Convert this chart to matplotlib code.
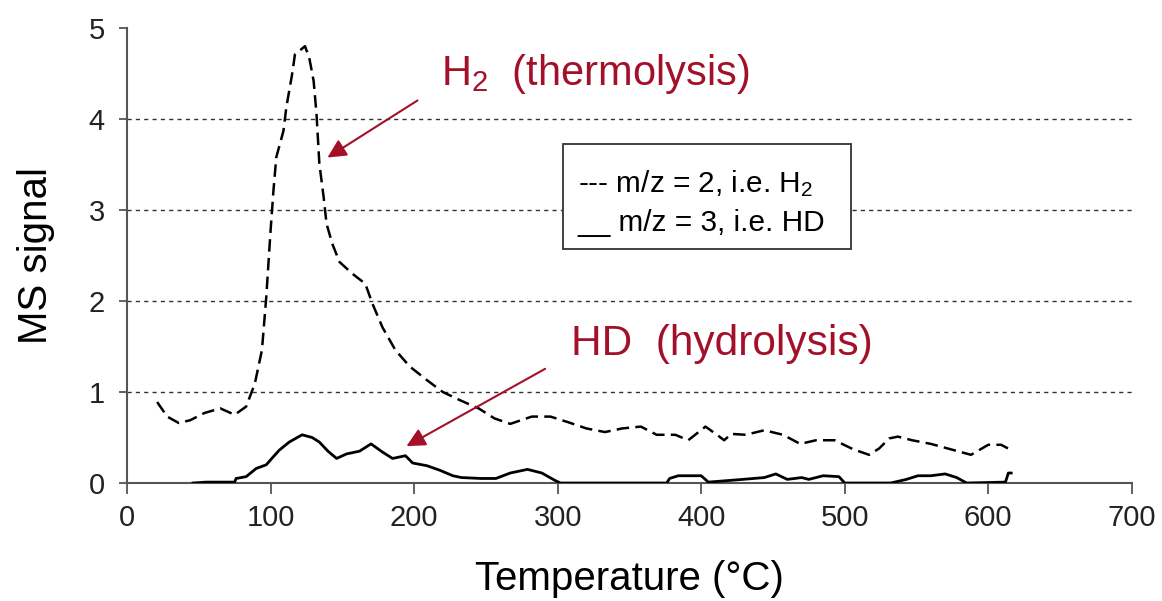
import numpy as np
import matplotlib
matplotlib.use('Agg')
import matplotlib.pyplot as plt
from matplotlib.patches import Rectangle

plt.rcParams['font.family'] = ['Liberation Sans', 'DejaVu Sans']
plt.rcParams['mathtext.default'] = 'regular'

# m/z = 2 (H2)
temp_h2 = [21, 28, 36, 44, 54, 65, 75, 83, 89, 94, 97, 100, 102, 104, 109, 111, 115, 117,
           124, 127, 130, 132, 134, 137, 139, 143, 148, 157, 166, 171, 178, 187, 197, 209,
           220, 232, 245, 256, 267, 282, 295, 307, 320, 333, 345, 358, 369, 382, 391, 403,
           411, 416, 421, 431, 444, 457, 469, 480, 493, 506, 517, 524, 531, 537, 547, 560,
           574, 588, 600, 609, 615]
sig_h2 = [0.89, 0.73, 0.66, 0.69, 0.77, 0.82, 0.75, 0.84, 1.09, 1.46, 2.04, 2.77, 3.21, 3.58,
          3.87, 4.13, 4.49, 4.71, 4.80, 4.67, 4.42, 4.06, 3.51, 3.14, 2.85, 2.63, 2.43, 2.30,
          2.19, 1.97, 1.71, 1.46, 1.28, 1.13, 1.00, 0.91, 0.82, 0.71, 0.65, 0.73, 0.73, 0.67,
          0.60, 0.56, 0.60, 0.62, 0.53, 0.53, 0.47, 0.62, 0.53, 0.47, 0.54, 0.53, 0.58, 0.53,
          0.43, 0.47, 0.47, 0.37, 0.31, 0.38, 0.49, 0.51, 0.47, 0.43, 0.37, 0.31, 0.42, 0.42,
          0.37]

# m/z = 3 (HD)
temp_hd = [46, 55, 65, 75, 76, 83, 90, 97, 102, 106, 113, 122, 129, 134, 140, 146, 153, 162,
           170, 178, 185, 194, 199, 209, 218, 227, 233, 247, 257, 267, 279, 289, 298, 302,
           376, 378, 384, 400, 405, 429, 444, 452, 460, 470, 475, 485, 496, 500, 532, 543,
           551, 560, 570, 578, 585, 612, 614, 616]
sig_hd = [0.0, 0.01, 0.01, 0.01, 0.05, 0.07, 0.16, 0.20, 0.29, 0.36, 0.45, 0.53, 0.50, 0.45,
          0.35, 0.27, 0.32, 0.35, 0.43, 0.34, 0.27, 0.30, 0.22, 0.19, 0.14, 0.08, 0.06, 0.05,
          0.05, 0.11, 0.15, 0.11, 0.03, 0.0, 0.0, 0.05, 0.08, 0.08, 0.01, 0.04, 0.06, 0.10,
          0.04, 0.06, 0.04, 0.08, 0.07, 0.0, 0.0, 0.04, 0.08, 0.08, 0.10, 0.06, 0.0, 0.01,
          0.11, 0.11]

x_ticks = [0, 100, 200, 300, 400, 500, 600, 700]
y_ticks = [0, 1, 2, 3, 4, 5]
grid_levels = [1, 2, 3, 4]
legend_lines = ['--- m/z = 2, i.e. H$_2$', '__ m/z = 3, i.e. HD']

red = '#a3102a'

fig = plt.figure(figsize=(11.62, 6.01), dpi=100)
ax = fig.add_axes([0.1093, 0.1963, 0.8647, 0.7571])

for g in grid_levels:
    ax.axhline(g, color='#333333', lw=1.0, ls=(0, (3, 3)), zorder=1)

ax.plot(temp_h2, sig_h2, color='black', lw=1.8, ls=(0, (5, 2.5)), zorder=3)
ax.plot(temp_hd, sig_hd, color='black', lw=2.0, zorder=3)

ax.set_xlim(0, 700)
ax.set_ylim(0, 5)
ax.set_xticks(x_ticks)
ax.set_yticks(y_ticks)
ax.tick_params(axis='both', labelsize=21, colors='#555555', labelcolor='#222222')
ax.tick_params(axis='x', length=8, width=1.3, pad=7)
ax.tick_params(axis='y', length=6, width=1.3, pad=10)
for s in ['top', 'right']:
    ax.spines[s].set_visible(False)
for s in ['left', 'bottom']:
    ax.spines[s].set_color('#555555')
    ax.spines[s].set_linewidth(1.5)

ax.set_xlabel('Temperature (°C)', fontsize=29, labelpad=20)
ax.set_ylabel('MS signal', fontsize=29, labelpad=24)

# legend drawn as a text box like the original
ax.add_patch(Rectangle((303.6, 2.577), 200.6, 1.151, fc='white', ec='#333333',
                       lw=1.3, zorder=5))
ax.text(314, 3.29, legend_lines[0], fontsize=21.4, va='center', ha='left', zorder=6)
ax.text(314, 2.86, legend_lines[1], fontsize=21.4, va='center', ha='left', zorder=6)

ax.text(219, 4.5, 'H$_2$  (thermolysis)', fontsize=30, color=red, va='center', ha='left')
ax.text(309, 1.53, 'HD  (hydrolysis)', fontsize=30.5, color=red, va='center', ha='left')

ax.annotate('', xy=(138, 3.56), xytext=(204, 4.22),
            arrowprops=dict(arrowstyle='-|>', color=red, lw=1.5, mutation_scale=28))
ax.annotate('', xy=(193, 0.39), xytext=(293, 1.27),
            arrowprops=dict(arrowstyle='-|>', color=red, lw=1.5, mutation_scale=28))

fig.savefig('out.png', dpi=100, facecolor='white')
